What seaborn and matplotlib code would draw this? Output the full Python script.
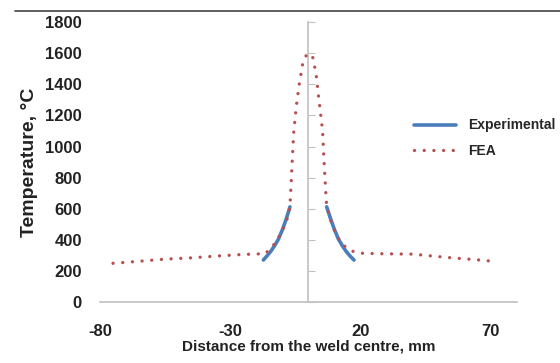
import numpy as np
import pandas as pd
import matplotlib.pyplot as plt
from matplotlib.lines import Line2D
import seaborn as sns

# ---- data ----
fea_x = [-75, -65, -55, -45, -35, -25, -18, -16.7, -14.8, -12.9, -10.9, -9.0, -7.7, -7.1,
         -6.6, -6.1, -5.6, -4.5, -3.5, -2.2, -0.7, 0.0, 1.6, 2.9, 3.9, 5.4, 6.0, 6.5,
         7.0, 8.0, 9.0, 10.5, 12.0, 13.4, 15.9, 18.0, 21, 30, 40, 53, 65.8, 72.7]
fea_t = [249, 262, 276, 284, 296, 306, 310, 310, 339, 377, 431, 495, 559, 612,
         780, 950, 1105, 1280, 1405, 1534, 1592, 1598, 1577, 1470, 1320, 1105, 900, 750,
         612, 560, 500, 440, 395, 366, 334, 320, 313, 310, 308, 287, 270, 259]

exp_left_x = [-17.3, -16.0, -14.5, -13.0, -11.5, -10.0, -8.5, -7.1]
exp_left_t = [270, 295, 325, 362, 405, 465, 535, 612]
exp_right_x = [7.0, 8.5, 10.0, 11.5, 13.0, 14.5, 16.0, 17.5]
exp_right_t = [612, 535, 465, 405, 362, 325, 295, 270]

x_ticks = [-80, -30, 20, 70]
y_ticks = [0, 200, 400, 600, 800, 1000, 1200, 1400, 1600, 1800]

exp_df = pd.DataFrame({
    'x': exp_left_x + exp_right_x,
    'T': exp_left_t + exp_right_t,
    'side': ['left'] * len(exp_left_x) + ['right'] * len(exp_right_x),
})
fea_df = pd.DataFrame({'x': fea_x, 'T': fea_t})

sns.set_style('white')
plt.rcParams['font.family'] = ['Liberation Sans', 'DejaVu Sans']

blue = '#4a7ebb'
red = '#b8504f'
grey = '#c0c0c0'
dots = (0, (0.01, 2.9))

fig = plt.figure(figsize=(5.6, 3.63), dpi=100)
ax = fig.add_axes([0.1786, 0.168, 0.923 - 0.1786, 0.939 - 0.168])

sns.lineplot(data=exp_df, x='x', y='T', units='side', estimator=None, sort=False,
             color=blue, linewidth=2.6, ax=ax, legend=False)
sns.lineplot(data=fea_df, x='x', y='T', sort=False, color=red, linewidth=2.4,
             linestyle=dots, dash_capstyle='round', ax=ax, legend=False)

ax.set_xlim(-80, 80)
ax.set_ylim(0, 1800)
ax.set_xticks(x_ticks)
ax.set_yticks(y_ticks)
ax.set_xticklabels([str(v) for v in x_ticks], fontsize=12, fontweight='bold', color='#222222')
ax.set_yticklabels([str(v) for v in y_ticks], fontsize=12, fontweight='bold', color='#222222')
ax.tick_params(axis='y', length=0, pad=13)
ax.tick_params(axis='x', length=5, width=1, color=grey, direction='out', pad=11)

for s in ['left', 'right', 'top']:
    ax.spines[s].set_visible(False)
ax.spines['bottom'].set_color(grey)
ax.spines['bottom'].set_linewidth(1.2)

# vertical axis crossing at x = 0 with its own small ticks
sec = ax.secondary_yaxis(0.5)
sec.set_yticks(y_ticks)
sec.set_yticklabels([])
sec.tick_params(length=5, color=grey, direction='out')
for sp in sec.spines.values():
    sp.set_color(grey)
    sp.set_linewidth(1.2)

ax.set_xlabel('Distance from the weld centre, mm', fontsize=11, fontweight='bold',
              labelpad=0, color='#222222')
ax.set_ylabel('Temperature, \u00b0C', fontsize=14, fontweight='bold', labelpad=5,
              color='#222222')

handles = [Line2D([], [], color=blue, linewidth=2.6),
           Line2D([], [], color=red, linewidth=2.4, linestyle=dots, dash_capstyle='round')]
fig.legend(handles, ['Experimental', 'FEA'], loc='upper left', bbox_to_anchor=(0.717, 0.708),
           frameon=False, handlelength=3.0, labelspacing=0.85, handletextpad=0.9,
           prop={'family': 'Liberation Sans', 'weight': 'bold', 'size': 10})

fig.add_artist(Line2D([0.027, 1.0], [0.970, 0.970], transform=fig.transFigure,
                      color='#444444', linewidth=1.2))

fig.savefig('out.png', dpi=100)
